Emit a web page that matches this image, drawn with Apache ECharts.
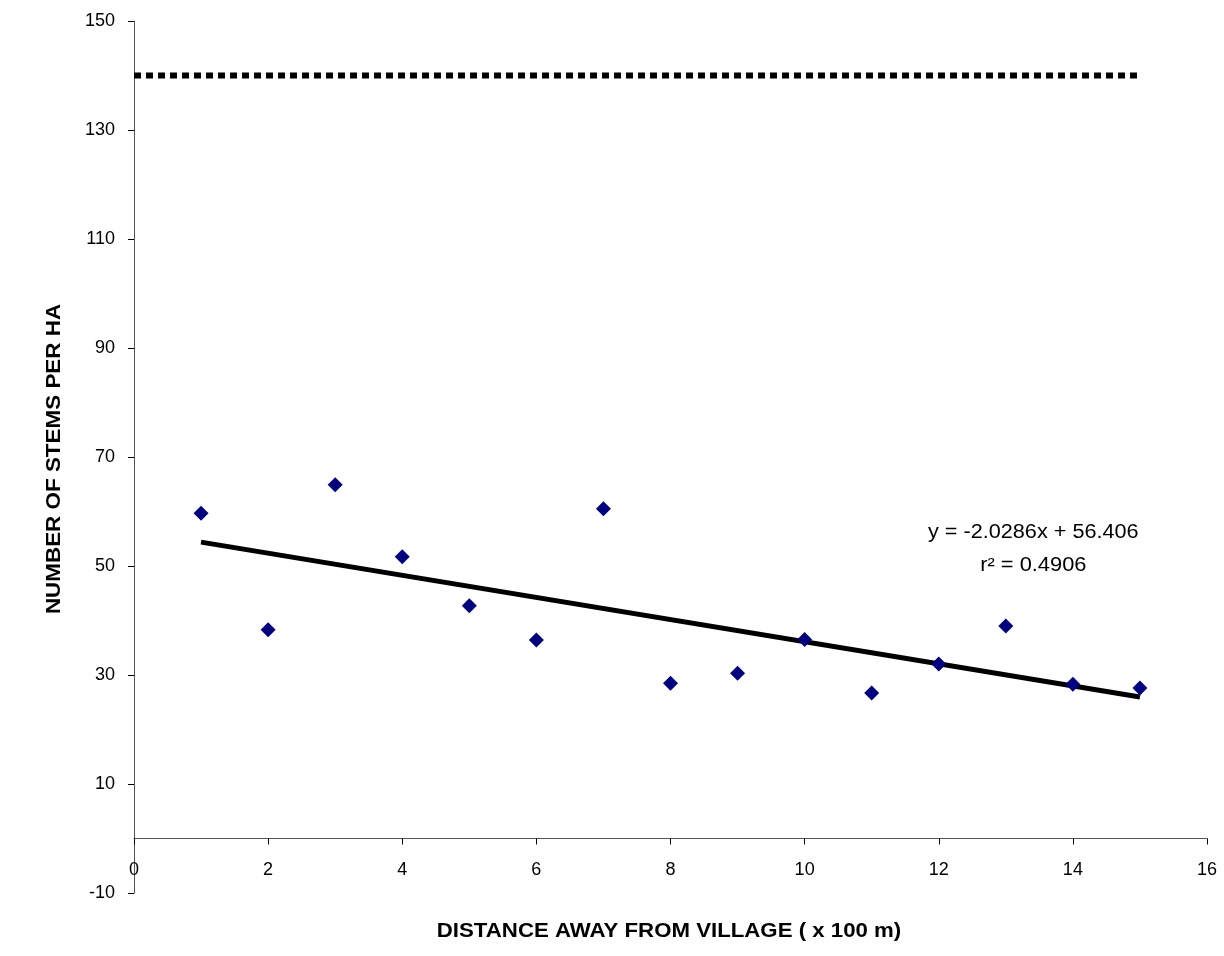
<!DOCTYPE html>
<html>
<head>
<meta charset="utf-8">
<script src="https://cdn.jsdelivr.net/npm/echarts@6/dist/echarts.min.js"></script>
<style>
html,body{margin:0;padding:0;background:#fff;}
#chart{width:1224px;height:956px;}
</style>
</head>
<body>
<div id="chart"></div>
<script>
// Data
const distance = [1, 2, 3, 4, 5, 6, 7, 8, 9, 10, 11, 12, 13, 14, 15];
const stems = [59.7, 38.3, 64.9, 51.7, 42.7, 36.4, 60.5, 28.5, 30.3, 36.5, 26.7, 32.0, 39.0, 28.3, 27.6];
const trendX = [1, 15];
const trendY = [54.38, 25.98];
const refLineX = [0, 15];
const refLineY = [140, 140];
const yTickValues = [-10, 10, 30, 50, 70, 90, 110, 130, 150];
const xTickValues = [0, 2, 4, 6, 8, 10, 12, 14, 16];
const xTitle = 'DISTANCE AWAY FROM VILLAGE ( x 100 m)';
const yTitle = 'NUMBER OF STEMS PER HA';
const equationText = 'y = -2.0286x + 56.406';
const r2Text = 'r² = 0.4906';
const annotationPos = [[13.41, 56.1], [13.41, 50.0]];

const FONT = "'Liberation Sans', Arial, sans-serif";

const chart = echarts.init(document.getElementById('chart'), null, {renderer: 'canvas'});
const option = {
  animation: false,
  backgroundColor: '#ffffff',
  grid: {left: 134, right: 17, top: 21, bottom: 63, containLabel: false, outerBoundsMode: 'none'},
  xAxis: {
    type: 'value',
    min: 0, max: 16, interval: 2,
    axisLine: {show: true, onZero: true, lineStyle: {color: '#555', width: 1}},
    axisTick: {show: true, inside: false, length: 6, lineStyle: {color: '#000'}, customValues: xTickValues},
    axisLabel: {fontFamily: FONT, fontSize: 18, color: '#000', margin: -32, customValues: xTickValues},
    splitLine: {show: false}
  },
  yAxis: {
    type: 'value',
    min: -10, max: 150,
    axisLine: {show: true, onZero: false, lineStyle: {color: '#555', width: 1}},
    axisTick: {show: true, inside: false, length: 6, lineStyle: {color: '#000'}, customValues: yTickValues},
    axisLabel: {fontFamily: FONT, fontSize: 18, color: '#000', margin: 19, customValues: yTickValues},
    splitLine: {show: false}
  },
  series: [
    {
      type: 'line',
      data: refLineX.map((x, i) => [x, refLineY[i]]),
      symbol: 'none',
      lineStyle: {color: '#000', width: 6, type: [7, 5], cap: 'butt'},
      z: 2
    },
    {
      type: 'line',
      data: trendX.map((x, i) => [x, trendY[i]]),
      symbol: 'none',
      lineStyle: {color: '#000', width: 5, cap: 'butt'},
      z: 3
    },
    {
      type: 'scatter',
      data: distance.map((x, i) => [x, stems[i]]),
      symbol: 'diamond',
      symbolSize: 15,
      itemStyle: {color: '#000080', opacity: 1},
      z: 4
    }
  ]
};
chart.setOption(option);

const eqPx = chart.convertToPixel({gridIndex: 0}, annotationPos[0]);
const r2Px = chart.convertToPixel({gridIndex: 0}, annotationPos[1]);
function txt(text, x, y, opts) {
  return Object.assign({
    type: 'text',
    x: x, y: y,
    style: {
      text: text,
      fontFamily: FONT,
      fontSize: 19.5,
      fill: '#000',
      align: 'center',
      verticalAlign: 'middle'
    },
    z: 10
  }, opts || {});
}
const t1 = txt(xTitle, 669, 932, {scaleX: 1.14});
t1.style.fontWeight = 'bold';
const t2 = txt(yTitle, 55, 459, {rotation: Math.PI / 2, scaleX: 1.15});
t2.style.fontWeight = 'bold';
chart.setOption({
  graphic: [
    t1, t2,
    txt(equationText, eqPx[0], eqPx[1], {scaleX: 1.11}),
    txt(r2Text, r2Px[0], r2Px[1], {scaleX: 1.12})
  ]
});
</script>
</body>
</html>
